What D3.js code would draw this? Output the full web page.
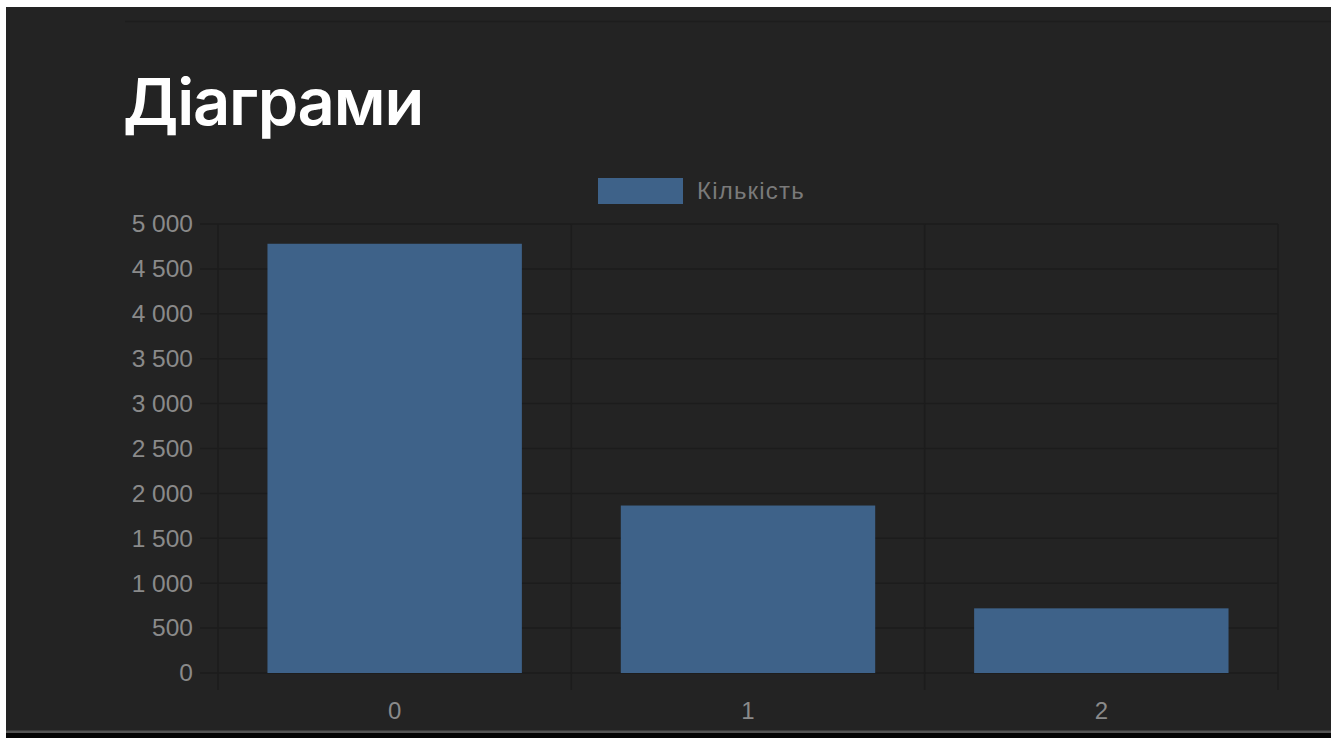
<!DOCTYPE html>
<html>
<head>
<meta charset="utf-8">
<script src="https://cdn.jsdelivr.net/npm/d3@7"></script>
<style>
  html, body { margin: 0; padding: 0; background: #fff; }
  svg { display: block; }
</style>
</head>
<body>
<div id="chart"></div>
<script>
// Bar chart "Діаграми" - one series, three categories

const categories = ["0", "1", "2"];
const counts = [4780, 1865, 720];
const yTicks = [0, 500, 1000, 1500, 2000, 2500, 3000, 3500, 4000, 4500, 5000];
const seriesName = "Кількість";
const title = "Діаграми";

function drawChart(containerId)
{
  const width = 1338, height = 738;
  const plot = { left: 218, right: 1278, top: 224, bottom: 673 };   // plot area in px
  const barColor = "rgb(62,98,137)";
  const gridColor = "#1c1c1c";
  const labelColor = "#8a8a8a";

  const svg = d3.select("#" + containerId)
                .append("svg")
                .attr("width", width)
                .attr("height", height);

  // page frame: white edges, dark panel, black strip at the bottom
  svg.append("rect").attr("width", width).attr("height", height).attr("fill", "#fff");
  svg.append("rect").attr("x", 6).attr("y", 7).attr("width", 1325).attr("height", 731).attr("fill", "#232323");
  svg.append("rect").attr("x", 6).attr("y", 733).attr("width", 1325).attr("height", 5).attr("fill", "#050505");
  svg.append("rect").attr("x", 6).attr("y", 730.5).attr("width", 1325).attr("height", 2.5).attr("fill", "#555");
  svg.append("line").attr("x1", 125).attr("x2", 1331).attr("y1", 21.5).attr("y2", 21.5)
     .attr("stroke", "#1d1d1d").attr("stroke-width", 1.5);

  svg.append("text")
     .attr("x", 123).attr("y", 125)
     .attr("fill", "#fff")
     .style("font-family", "Inter, 'Noto Sans', sans-serif")
     .style("font-weight", 600)
     .style("font-size", "65px")
     .style("letter-spacing", "-1.2px")
     .text(title);

  // --- Scales ---
  const x = d3.scaleBand()
              .domain(categories)
              .range([plot.left, plot.right])
              .padding(0);

  const y = d3.scaleLinear()
              .domain([0, 5000])
              .range([plot.bottom, plot.top]);

  const fmt = d3.formatLocale({ decimal: ",", thousands: " ", grouping: [3], currency: ["", ""] }).format(",d");

  // --- Grid ---
  svg.append("g")
     .selectAll("line")
     .data(yTicks)
     .enter()
     .append("line")
     .attr("x1", plot.left - 18).attr("x2", plot.right)
     .attr("y1", d => y(d)).attr("y2", d => y(d))
     .attr("stroke", gridColor).attr("stroke-width", 1.5);

  const xEdges = categories.map(c => x(c)).concat([plot.right]);
  svg.append("g")
     .selectAll("line")
     .data(xEdges)
     .enter()
     .append("line")
     .attr("x1", d => d).attr("x2", d => d)
     .attr("y1", plot.top).attr("y2", plot.bottom + 17)
     .attr("stroke", gridColor).attr("stroke-width", 1.5);

  // --- Bars ---
  const barW = x.bandwidth() * 0.72;                                // 0.8 category * 0.9 bar
  svg.append("g")
     .selectAll("rect")
     .data(categories.map((c, i) => ({ label: c, count: counts[i] })))
     .enter()
     .append("rect")
     .attr("x", d => x(d.label) + (x.bandwidth() - barW) / 2)
     .attr("width", barW)
     .attr("y", d => y(d.count))
     .attr("height", d => y(0) - y(d.count))
     .attr("fill", barColor);

  // --- Axes labels ---
  const yAxis = svg.append("g")
     .attr("transform", "translate(" + (plot.left - 25) + ",0)")
     .call(d3.axisLeft(y).tickValues(yTicks).tickFormat(fmt).tickSize(0).tickPadding(0));
  yAxis.select(".domain").remove();
  yAxis.selectAll("text")
       .attr("fill", labelColor)
       .style("font-family", "'Liberation Sans', Arial, sans-serif")
       .style("font-size", "24.5px");

  const xAxis = svg.append("g")
     .attr("transform", "translate(0," + (plot.bottom + 28) + ")")
     .call(d3.axisBottom(x).tickSize(0).tickPadding(0));
  xAxis.select(".domain").remove();
  xAxis.selectAll("text")
       .attr("fill", labelColor)
       .attr("dy", "0.75em")
       .style("font-family", "'Liberation Sans', Arial, sans-serif")
       .style("font-size", "24px");

  // --- Legend ---
  const legend = svg.append("g");
  legend.append("rect")
        .attr("x", 598).attr("y", 178).attr("width", 85).attr("height", 26)
        .attr("fill", barColor);
  legend.append("text")
        .attr("x", 697).attr("y", 199)
        .attr("fill", "#7a7a7a")
        .style("font-family", "'Liberation Sans', Arial, sans-serif")
        .style("font-size", "24px")
        .style("letter-spacing", "1.2px")
        .text(seriesName);
}

drawChart("chart");
</script>
</body>
</html>
